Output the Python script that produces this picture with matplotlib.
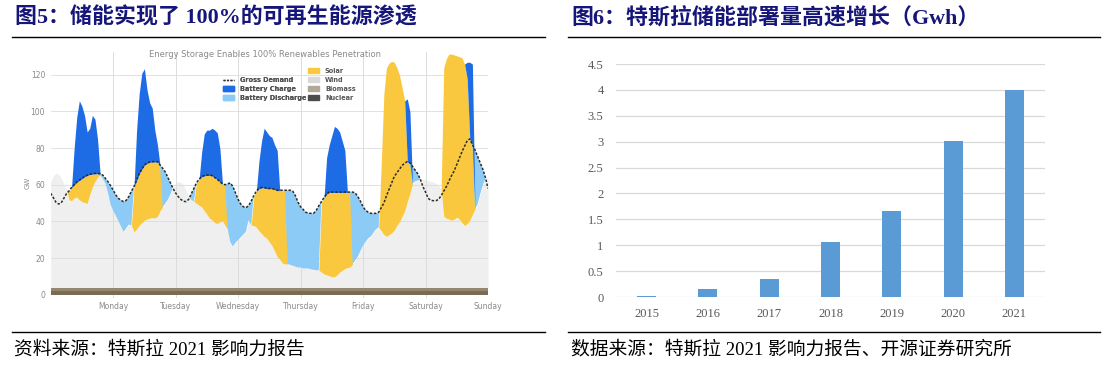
import numpy as np
import matplotlib
matplotlib.use("Agg")
import matplotlib.pyplot as plt
from matplotlib.patches import Patch
from matplotlib.lines import Line2D

# ---------------- Left chart data: one week, hourly, GW ----------------
hours = np.arange(169)
day_ticks = [24, 48, 72, 96, 120, 144, 168]
day_labels = ["Monday", "Tuesday", "Wednesday", "Thursday", "Friday", "Saturday", "Sunday"]
gw_ticks = [0, 20, 40, 60, 80, 100, 120]

demand_gw = [
    55.3, 53, 50.5, 49.5, 50, 52.5, 55,
    56.5, 58.5, 60, 61.5, 62.5, 63.5, 64.5, 65.2, 65.7, 66, 66.2, 66.2, 66,
    65.3, 63.5, 61.7, 59.5, 57, 54.5, 52.6, 51.5, 50.8, 51.5, 53.5, 56.5,
    59, 62.5, 66, 68.5, 70.8, 71.8, 72.4, 72.6, 72.6, 72.6, 70.8,
    69, 67, 64, 61, 58, 55.5, 53.5, 52, 51, 50.8, 52, 55, 58,
    61, 63, 64.5, 65, 65.3, 65.3, 65, 64, 63, 61.7, 60.5, 60,
    60.5, 61, 59, 55.5, 52, 49.5, 48, 47.5, 48.5, 51,
    54, 56.5, 58, 58.5, 58.5, 58, 58, 58, 57.5, 57, 57, 57, 57,
    57, 57, 56.5, 54, 50.5, 48, 46.5, 45, 44.5, 44.4, 44.4, 46, 48.5,
    50.8, 53, 55, 56, 56, 56, 56, 56, 56, 56, 56, 56,
    56, 55.5, 53.5, 51, 48, 46, 45, 44.4, 44.4, 44.4, 45,
    47.5, 50, 54, 57.5, 61, 64.5, 66.5, 68.5, 70.5, 71.8, 72.6, 72,
    70, 68, 66, 63, 59, 56, 52.6, 51.5, 51.3, 51.3, 52, 54,
    56.5, 59, 62, 65, 67.5, 71, 74.5, 78, 81, 84, 85, 82,
    79, 75.5, 72, 68.5, 64, 58,
]

wind_gw = [
    58, 61, 62.5, 62, 60, 57, 54,
    48, 47.5, 49, 49.5, 48, 47, 46.5, 46, 51, 55, 58, 60.5, 61.5,
    59.5, 57, 52, 45.5, 42, 39.5, 36.5, 33.5, 30.5, 32.5, 34.5, 34,
    30.5, 32, 34, 35.5, 36.8, 37.5, 38, 38.3, 38, 39, 42,
    44, 46, 48, 51, 55, 57, 58, 57.5, 56, 53, 50, 48, 47,
    46, 45, 44, 42, 40, 38, 37, 35.5, 35, 36, 36.5, 34,
    32, 25, 22.5, 24.5, 26, 27.5, 29, 30.5, 37, 34,
    34, 33, 31, 29.5, 28, 27, 25, 23, 20, 17, 15.5, 13.5, 13,
    13, 12.5, 12, 11.5, 11, 11, 10.5, 10.5, 10.5, 10, 9.8, 9.5, 9.5,
    8.6, 7.5, 7, 6.5, 6, 6, 7, 8.5, 9.5, 10.5, 11, 11.3,
    13, 15, 17, 20, 23, 25, 27, 28, 30, 32, 33,
    31, 29, 28, 29, 30, 31.5, 34, 36, 39, 42, 47, 51.5,
    56.8, 58, 58.5, 59, 59.5, 59, 58.5, 58, 57.5, 57, 56, 53.5,
    39, 38, 37.5, 36.8, 37.5, 38.5, 37.5, 35.5, 34, 35, 36.8, 40,
    43, 45.5, 51, 56, 59.5, 60.4,
]

solar_gw = [
    0, 0, 0, 0, 0, 0, 0,
    4.5, 7, 7, 8, 10.5, 12.5, 14, 15.2, 10.7, 7, 4.2, 1.7, 0.5,
    0, 0, 0, 0, 0, 0, 0, 0, 0, 0, 0, 0,
    24.5, 26.5, 28, 29, 30, 30.3, 30.4, 30.3, 30.6, 29.6, 24.8,
    0, 0, 0, 0, 0, 0, 0, 0, 0, 0, 0, 0, 0,
    11, 14, 16.5, 19, 21.3, 23.3, 24, 24.5, 24, 21.7, 20, 22,
    0, 0, 0, 0, 0, 0, 0, 0, 0, 0,
    16, 19.5, 23, 25, 26.5, 27, 29, 31, 33.5, 36, 37.5, 39.5, 40,
    0, 0, 0, 0, 0, 0, 0, 0, 0, 0, 0, 0, 0,
    38.2, 41.5, 44, 45.5, 46, 46, 45, 43.5, 42.5, 41.5, 41, 40.7,
    0, 0, 0, 0, 0, 0, 0, 0, 0, 0, 0,
    37, 77, 92, 93.5, 93.5, 91.5, 86, 80, 70, 60, 21.6, 16.5,
    0, 0, 0, 0, 0, 0, 0, 0, 0, 0, 0, 0,
    81, 87, 90, 90.7, 89.5, 88, 88.5, 90, 88, 79, 44.2, 38,
    0, 0, 0, 0, 0, 0,
]

charge_gw = [
    0, 0, 0, 0, 0, 0, 0, 0, 0,
    20, 35.5, 43.5, 39.5, 33.5, 23.8, 25.3, 32, 29.8, 18.8,
    0, 0, 0, 0, 0, 0, 0, 0, 0, 0, 0, 0, 0, 0,
    27.5, 44, 52.5, 52.7, 40.2, 32.6, 29.4, 17.4, 9.4,
    0, 0, 0, 0, 0, 0, 0, 0, 0, 0, 0, 0, 0, 0, 0, 0,
    13.5, 23, 24.7, 24.7, 26, 26, 25.5, 18.3,
    0, 0, 0, 0, 0, 0, 0, 0, 0, 0, 0, 0, 0, 0,
    15, 25.5, 32.5, 31, 29, 28, 24.5, 22,
    0, 0, 0, 0, 0, 0, 0, 0, 0, 0, 0, 0, 0, 0, 0, 0, 0, 0,
    20, 26, 31, 36, 35, 33, 28, 23,
    0, 0, 0, 0, 0, 0, 0, 0, 0, 0, 0, 0, 0, 0, 0, 0, 0, 0, 0, 0, 0, 0, 0,
    34.4, 28,
    0, 0, 0, 0, 0, 0, 0, 0, 0, 0, 0, 0, 0, 0, 0, 0, 0, 0, 0, 0, 0,
    9, 42, 44,
    0, 0, 0, 0, 0, 0,
]

nuclear_gw = 2.0
biomass_gw = 1.8

# ---------------- Right chart data ----------------
years = ["2015", "2016", "2017", "2018", "2019", "2020", "2021"]
deploy_gwh = [0.01, 0.15, 0.34, 1.07, 1.66, 3.02, 3.99]
bar_ticks = [0, 0.5, 1, 1.5, 2, 2.5, 3, 3.5, 4, 4.5]
bar_tick_labels = ["0", "0.5", "1", "1.5", "2", "2.5", "3", "3.5", "4", "4.5"]

# ---------------- Text ----------------
title_left = "图5：储能实现了 100%的可再生能源渗透"
title_right = "图6：特斯拉储能部署量高速增长（Gwh）"
note_left = "资料来源：特斯拉 2021 影响力报告"
note_right = "数据来源：特斯拉 2021 影响力报告、开源证券研究所"
inner_title = "Energy Storage Enables 100% Renewables Penetration"

# colours
C_TITLE = "#16167A"
C_CHARGE = "#1E6BE6"
C_DISCH = "#8CCBF5"
C_SOLAR = "#F9C83E"
C_WIND = "#EFEFEF"
C_WIND_LEG = "#D9D9D9"
C_BIO = "#958670"
C_NUC = "#7A6B55"
C_BIO_LEG = "#B2A898"
C_NUC_LEG = "#4D4D4D"
C_BAR = "#5B9BD5"

CJK = ["Liberation Serif", "Noto Sans CJK SC", "DejaVu Sans"]

W, H = 1113, 377
fig = plt.figure(figsize=(W / 100, H / 100), dpi=100)
fig.patch.set_facecolor("white")


def fx(px):
    return px / W


def fy(py):
    return 1 - py / H


# ---------------- Left chart ----------------
ax = fig.add_axes([fx(50.7), fy(297.5), fx(488) - fx(50.7), fy(52) - fy(297.5)])
d = np.array(demand_gw)
wnd = np.array(wind_gw)
sol = np.array(solar_gw)
chg = np.array(charge_gw)
base = nuclear_gw + biomass_gw
wind_top = base + wnd
solar_top = wind_top + sol
charge_top = solar_top + chg

ax.fill_between(hours, base, wind_top, color=C_WIND, lw=0, zorder=1)
for yv in gw_ticks[1:]:
    ax.axhline(yv, color="#DCDCDC", lw=0.6, zorder=1.5)
for xv in day_ticks[:-1]:
    ax.axvline(xv, color="#DCDCDC", lw=0.7, zorder=1.5)
ax.fill_between(hours, wind_top, solar_top, color=C_SOLAR, lw=0, zorder=2)
ax.fill_between(hours, solar_top, d, where=d > solar_top + 1e-6, interpolate=True,
                color=C_DISCH, lw=0, zorder=2)
ax.fill_between(hours, solar_top, charge_top, color=C_CHARGE, lw=0, zorder=2.2)
ax.fill_between(hours, 0, nuclear_gw, color=C_NUC, lw=0, zorder=3)
ax.fill_between(hours, nuclear_gw, base, color=C_BIO, lw=0, zorder=3)
ax.plot(hours, d, color="#2a2a2a", lw=1.1, ls=(0, (1.6, 1.1)), zorder=5)

ax.set_xlim(0, 168)
ax.set_ylim(-1.5, 132.4)
ax.set_yticks(gw_ticks)
ax.set_yticklabels([str(v) for v in gw_ticks])
ax.set_xticks(day_ticks)
ax.set_xticklabels(day_labels)
ax.tick_params(axis="both", length=0, labelsize=5.5, labelcolor="#8a8a8a")
ax.tick_params(axis="y", pad=4)
ax.tick_params(axis="x", pad=3)
for s in ax.spines.values():
    s.set_visible(False)
ax.set_ylabel("GW", fontsize=5, color="#8a8a8a")
ax.yaxis.set_label_coords(-0.047, 0.466)
ax.text(0.489, 0.99, inner_title, transform=ax.transAxes, ha="center", va="center",
        fontsize=6, color="#8a8a8a", zorder=6)

leg1 = fig.legend(
    handles=[Line2D([], [], color="#333333", lw=1.0, ls=(0, (1.5, 1))),
             Patch(color=C_CHARGE), Patch(color=C_DISCH)],
    labels=["Gross Demand", "Battery Charge", "Battery Discharge"],
    loc="upper left", bbox_to_anchor=(fx(223), fy(77)), frameon=False,
    prop={"size": 4.7, "weight": "bold"}, labelcolor="#555555",
    handlelength=1.7, handleheight=0.8, handletextpad=0.9, labelspacing=0.45,
    borderpad=0, borderaxespad=0)
fig.add_artist(leg1)
fig.legend(
    handles=[Patch(color=C_SOLAR), Patch(color=C_WIND_LEG), Patch(color=C_BIO_LEG),
             Patch(color=C_NUC_LEG)],
    labels=["Solar", "Wind", "Biomass", "Nuclear"],
    loc="upper left", bbox_to_anchor=(fx(308), fy(68)), frameon=False,
    prop={"size": 4.7, "weight": "bold"}, labelcolor="#555555",
    handlelength=1.7, handleheight=0.8, handletextpad=0.9, labelspacing=0.45,
    borderpad=0, borderaxespad=0)

# ---------------- Right chart ----------------
ax2 = fig.add_axes([fx(616), fy(297), fx(1045) - fx(616), fy(64) - fy(297)])
xpos = np.arange(len(years))
ax2.bar(xpos, deploy_gwh, width=0.31, color=C_BAR, zorder=3)
ax2.set_xlim(-0.5, len(years) - 0.5)
ax2.set_ylim(0, 4.5)
ax2.set_yticks(bar_ticks)
ax2.set_yticklabels(bar_tick_labels)
ax2.set_xticks(xpos)
ax2.set_xticklabels(years)
ax2.yaxis.grid(True, color="#D9D9D9", lw=0.9, zorder=0)
ax2.set_axisbelow(True)
for s in ax2.spines.values():
    s.set_visible(False)
ax2.tick_params(axis="both", length=0, labelcolor="#595959")
ax2.tick_params(axis="y", pad=9)
ax2.tick_params(axis="x", pad=8)
for lab in ax2.get_xticklabels() + ax2.get_yticklabels():
    lab.set_fontfamily("Liberation Serif")
    lab.set_fontsize(9)

# ---------------- Titles, rules, notes ----------------
fig.text(fx(15), fy(18), title_left, fontsize=15.8, fontweight="bold", color=C_TITLE,
         family=CJK, va="center", ha="left")
fig.text(fx(571), fy(18), title_right, fontsize=15.8, fontweight="bold", color=C_TITLE,
         family=CJK, va="center", ha="left")
for x0, x1 in [(12, 545), (568, 1100)]:
    for yy in (37, 332):
        fig.add_artist(Line2D([fx(x0), fx(x1)], [fy(yy), fy(yy)], color="black", lw=1.0,
                              transform=fig.transFigure))
fig.text(fx(14), fy(350), note_left, fontsize=13.5, color="black", family=CJK,
         va="center", ha="left")
fig.text(fx(571), fy(350), note_right, fontsize=13.5, color="black", family=CJK,
         va="center", ha="left")

fig.savefig("out.png", dpi=100, facecolor="white")
